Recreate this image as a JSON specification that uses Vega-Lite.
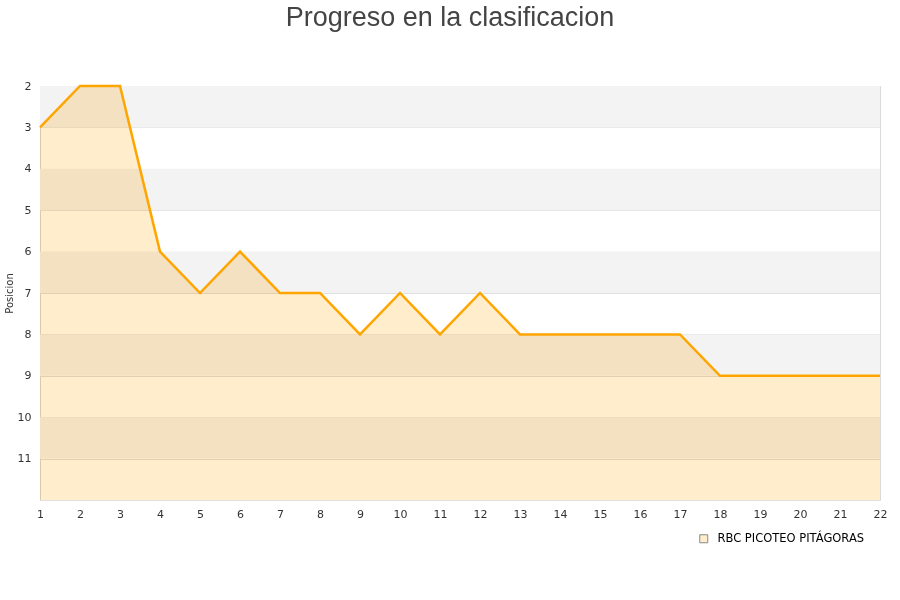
{
  "$schema": "https://vega.github.io/schema/vega-lite/v6.json",
  "width": 840,
  "height": 414,
  "autosize": {"type": "none"},
  "padding": {"left": 40, "top": 86, "right": 20, "bottom": 100},
  "background": "white",
  "title": {"text": "Progreso en la clasificacion", "font": "Liberation Sans", "fontSize": 27, "fontWeight": "normal", "color": "#444444", "offset": 48, "dx": -10},
  "config": {
    "view": {"stroke": "#d9d9d9", "strokeWidth": 1},
    "axis": {"labelFont": "DejaVu Sans", "labelFontSize": 11, "labelColor": "#333333", "ticks": false, "domain": false},
    "axisX": {"labelOverlap": false, "labelSeparation": -40}
  },
  "datasets": {
    "clasif": [
      {"jornada": 1, "posicion": 3, "equipo": "RBC PICOTEO PITÁGORAS"},
      {"jornada": 2, "posicion": 2, "equipo": "RBC PICOTEO PITÁGORAS"},
      {"jornada": 3, "posicion": 2, "equipo": "RBC PICOTEO PITÁGORAS"},
      {"jornada": 4, "posicion": 6, "equipo": "RBC PICOTEO PITÁGORAS"},
      {"jornada": 5, "posicion": 7, "equipo": "RBC PICOTEO PITÁGORAS"},
      {"jornada": 6, "posicion": 6, "equipo": "RBC PICOTEO PITÁGORAS"},
      {"jornada": 7, "posicion": 7, "equipo": "RBC PICOTEO PITÁGORAS"},
      {"jornada": 8, "posicion": 7, "equipo": "RBC PICOTEO PITÁGORAS"},
      {"jornada": 9, "posicion": 8, "equipo": "RBC PICOTEO PITÁGORAS"},
      {"jornada": 10, "posicion": 7, "equipo": "RBC PICOTEO PITÁGORAS"},
      {"jornada": 11, "posicion": 8, "equipo": "RBC PICOTEO PITÁGORAS"},
      {"jornada": 12, "posicion": 7, "equipo": "RBC PICOTEO PITÁGORAS"},
      {"jornada": 13, "posicion": 8, "equipo": "RBC PICOTEO PITÁGORAS"},
      {"jornada": 14, "posicion": 8, "equipo": "RBC PICOTEO PITÁGORAS"},
      {"jornada": 15, "posicion": 8, "equipo": "RBC PICOTEO PITÁGORAS"},
      {"jornada": 16, "posicion": 8, "equipo": "RBC PICOTEO PITÁGORAS"},
      {"jornada": 17, "posicion": 8, "equipo": "RBC PICOTEO PITÁGORAS"},
      {"jornada": 18, "posicion": 9, "equipo": "RBC PICOTEO PITÁGORAS"},
      {"jornada": 19, "posicion": 9, "equipo": "RBC PICOTEO PITÁGORAS"},
      {"jornada": 20, "posicion": 9, "equipo": "RBC PICOTEO PITÁGORAS"},
      {"jornada": 21, "posicion": 9, "equipo": "RBC PICOTEO PITÁGORAS"},
      {"jornada": 22, "posicion": 9, "equipo": "RBC PICOTEO PITÁGORAS"}
    ],
    "bandas": [
      {"desde": 2, "hasta": 3},
      {"desde": 4, "hasta": 5},
      {"desde": 6, "hasta": 7},
      {"desde": 8, "hasta": 9},
      {"desde": 10, "hasta": 11}
    ]
  },
  "layer": [
    {
      "data": {"name": "bandas"},
      "mark": {"type": "rect", "color": "#f3f3f3"},
      "encoding": {
        "x": {"datum": 1, "type": "quantitative", "scale": {"domain": [1, 22], "nice": false, "zero": false},
          "axis": {"values": [1,2,3,4,5,6,7,8,9,10,11,12,13,14,15,16,17,18,19,20,21,22], "tickCount": 22, "grid": false, "title": null, "labelPadding": 8, "format": "d", "labelOverlap": false, "labelSeparation": -40, "labelFlush": false, "labelBound": false}},
        "x2": {"datum": 22},
        "y": {"field": "desde", "type": "quantitative", "scale": {"domain": [2, 12], "reverse": true, "nice": false, "zero": false},
          "axis": {"values": [2,3,4,5,6,7,8,9,10,11,12], "labelExpr": "datum.value == 12 ? '' : datum.label", "grid": true, "gridColor": "#e0e0e0", "title": "Posicion", "titleFont": "DejaVu Sans", "titleFontSize": 10, "titleFontWeight": "normal", "titleColor": "#333333", "labelPadding": 9, "titlePadding": 3, "labelOverlap": false}},
        "y2": {"field": "hasta"}
      }
    },
    {
      "data": {"name": "clasif"},
      "mark": {"type": "area", "opacity": 1, "interpolate": "linear", "blend": "multiply"},
      "encoding": {
        "x": {"field": "jornada", "type": "quantitative"},
        "y": {"field": "posicion", "type": "quantitative"},
        "y2": {"datum": 12},
        "fill": {"field": "equipo", "type": "nominal", "scale": {"range": ["#ffedcc"]},
          "legend": {"title": null, "orient": "none", "legendX": 658, "legendY": 447, "symbolType": "square", "symbolSize": 64, "labelFont": "DejaVu Sans", "labelFontSize": 11.5, "labelColor": "#000000", "labelOffset": 8,
            "symbolStrokeColor": "#888888", "symbolStrokeWidth": 1,
            "encode": {"symbols": {"update": {"stroke": {"value": "#888888"}, "strokeWidth": {"value": 1}}}}}}
      }
    },
    {
      "data": {"name": "clasif"},
      "mark": {"type": "line", "color": "#ffa500", "strokeWidth": 2.5},
      "encoding": {
        "x": {"field": "jornada", "type": "quantitative"},
        "y": {"field": "posicion", "type": "quantitative"}
      }
    }
  ]
}
